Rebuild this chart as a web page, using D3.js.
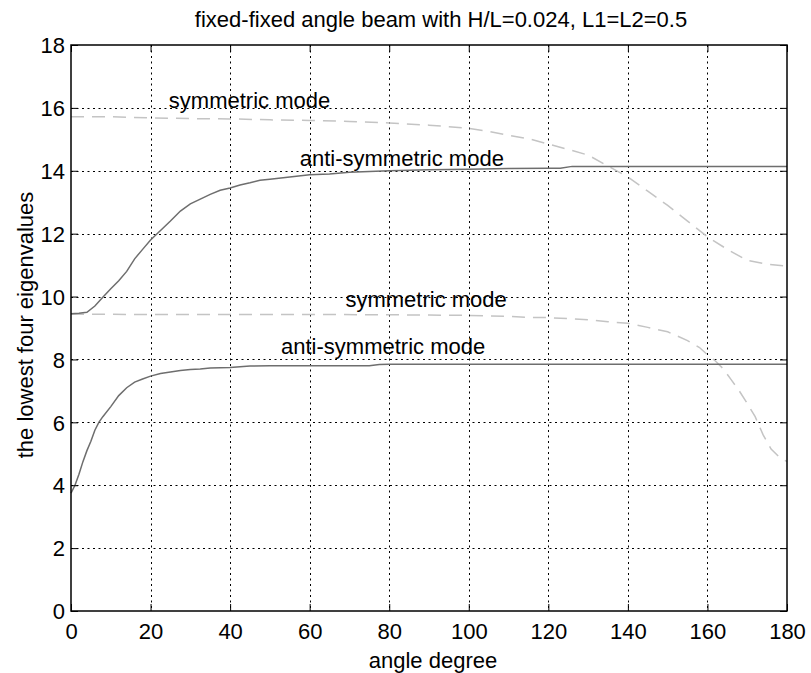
<!DOCTYPE html>
<html>
<head>
<meta charset="utf-8">
<script src="https://cdn.jsdelivr.net/npm/d3@7"></script>
<style>
  html, body { margin: 0; padding: 0; background: #fff; }
  svg text { font-family: "Liberation Sans", Arial, Helvetica, sans-serif; fill: #000; }
</style>
</head>
<body>
<svg id="chart" width="811" height="673"></svg>
<script>
// Eigenvalue curves of a fixed-fixed angle beam versus the angle (degrees)
const xTicks = [0, 20, 40, 60, 80, 100, 120, 140, 160, 180];
const yTicks = [0, 2, 4, 6, 8, 10, 12, 14, 16, 18];

// lowest anti-symmetric mode
const antiLowAngle = [0, 1, 2, 3, 4, 5, 6, 7, 8, 10, 12, 14, 16, 18, 20, 22.5, 25, 27.5, 30, 32.5, 35, 40, 42.5, 45, 50, 60, 70, 75, 77.5, 80, 100, 120, 140, 160, 180];
const antiLowValue = [3.75, 4.0, 4.35, 4.75, 5.1, 5.4, 5.75, 6.0, 6.18, 6.5, 6.85, 7.1, 7.28, 7.38, 7.47, 7.55, 7.6, 7.65, 7.68, 7.7, 7.73, 7.74, 7.77, 7.79, 7.8, 7.8, 7.8, 7.8, 7.84, 7.85, 7.85, 7.85, 7.85, 7.85, 7.85];

// lowest symmetric mode
const symLowAngle = [0, 20, 40, 60, 80, 90, 100, 105, 110, 115, 120, 125, 130, 135, 140, 145, 150, 155, 158, 160, 162, 164, 166, 168, 170, 172, 174, 176, 178, 180];
const symLowValue = [9.44, 9.43, 9.43, 9.43, 9.42, 9.41, 9.4, 9.38, 9.37, 9.34, 9.33, 9.3, 9.26, 9.2, 9.15, 9.02, 8.88, 8.6, 8.38, 8.15, 7.95, 7.7, 7.35, 7.0, 6.6, 6.18, 5.6, 5.15, 4.9, 4.75];

// second anti-symmetric mode
const antiHighAngle = [0, 2, 4, 6, 8, 10, 12, 14, 16, 18, 20, 22.5, 25, 27.5, 30, 32.5, 35, 37.5, 40, 42.5, 45, 47.5, 50, 55, 60, 65, 70, 75, 80, 90, 100, 110, 120, 123, 126, 130, 150, 180];
const antiHighValue = [9.45, 9.47, 9.5, 9.7, 9.98, 10.25, 10.5, 10.8, 11.2, 11.5, 11.8, 12.1, 12.4, 12.72, 12.95, 13.1, 13.25, 13.38, 13.45, 13.55, 13.62, 13.7, 13.73, 13.8, 13.87, 13.9, 13.95, 13.98, 14.0, 14.03, 14.05, 14.07, 14.08, 14.08, 14.14, 14.14, 14.14, 14.14];

// second symmetric mode
const symHighAngle = [0, 10, 20, 30, 40, 50, 60, 70, 80, 90, 100, 105, 110, 115, 120, 125, 130, 135, 140, 145, 150, 155, 160, 165, 170, 175, 180];
const symHighValue = [15.72, 15.72, 15.68, 15.66, 15.65, 15.62, 15.6, 15.57, 15.52, 15.45, 15.35, 15.25, 15.13, 15.02, 14.85, 14.68, 14.5, 14.15, 13.8, 13.35, 12.9, 12.4, 11.9, 11.5, 11.15, 11.03, 10.97];

// curve annotations: [text, angle, value]
const labelText = ["symmetric mode", "anti-symmetric mode", "symmetric mode", "anti-symmetric mode"];
const labelAngle = [24.6, 57.5, 69.0, 52.8];
const labelValue = [16.0, 14.15, 9.66, 8.17];

const titleText = "fixed-fixed angle beam with H/L=0.024, L1=L2=0.5";
const xLabelText = "angle degree";
const yLabelText = "the lowest four eigenvalues";

const svg = d3.select("#chart");
const plotLeft = 71, plotRight = 787, plotTop = 45, plotBottom = 611;
const fontSize = 22;

const x = d3.scaleLinear().domain([0, 180]).range([plotLeft, plotRight]);
const y = d3.scaleLinear().domain([0, 18]).range([plotBottom, plotTop]);

// dotted grid
const grid = svg.append("g").attr("stroke", "#000").attr("stroke-width", 1).attr("stroke-dasharray", "2,3.5");
grid.selectAll("line.vx").data(xTicks.slice(1, -1)).join("line")
  .attr("x1", d => Math.round(x(d)) + 0.5).attr("x2", d => Math.round(x(d)) + 0.5)
  .attr("y1", plotTop).attr("y2", plotBottom);
grid.selectAll("line.hy").data(yTicks.slice(1, -1)).join("line")
  .attr("y1", d => Math.round(y(d)) + 0.5).attr("y2", d => Math.round(y(d)) + 0.5)
  .attr("x1", plotLeft).attr("x2", plotRight);

// curves
const line = d3.line().x(d => x(d[0])).y(d => y(d[1]));
function curve(ax, vals, color, dash) {
  svg.append("path")
    .datum(d3.zip(ax, vals))
    .attr("fill", "none")
    .attr("stroke", color)
    .attr("stroke-width", 1.5)
    .attr("stroke-dasharray", dash)
    .attr("d", line);
}
curve(symHighAngle, symHighValue, "#c4c4c4", "13,8");
curve(symLowAngle, symLowValue, "#c4c4c4", "13,8");
curve(antiHighAngle, antiHighValue, "#6e6e6e", null);
curve(antiLowAngle, antiLowValue, "#6e6e6e", null);

// axes with inward ticks on all four sides
const tick = 7;
const xAxisB = d3.axisBottom(x).tickValues(xTicks).tickSizeInner(-tick).tickSizeOuter(0);
const xAxisT = d3.axisTop(x).tickValues(xTicks).tickSizeInner(-tick).tickSizeOuter(0).tickFormat("");
const yAxisL = d3.axisLeft(y).tickValues(yTicks).tickSizeInner(-tick).tickSizeOuter(0);
const yAxisR = d3.axisRight(y).tickValues(yTicks).tickSizeInner(-tick).tickSizeOuter(0).tickFormat("");

function styleAxis(g) {
  g.select(".domain").remove();
  g.selectAll(".tick line").attr("stroke", "#000").attr("stroke-width", 1);
  g.selectAll(".tick text").attr("font-size", fontSize).attr("fill", "#000");
}
svg.append("g").attr("transform", `translate(0,${plotBottom})`).call(xAxisB).call(styleAxis)
  .selectAll(".tick text").attr("dy", null).attr("y", 28);
svg.append("g").attr("transform", `translate(0,${plotTop})`).call(xAxisT).call(styleAxis);
svg.append("g").attr("transform", `translate(${plotLeft},0)`).call(yAxisL).call(styleAxis)
  .selectAll(".tick text").attr("x", -6).attr("dy", "0.35em");
svg.append("g").attr("transform", `translate(${plotRight},0)`).call(yAxisR).call(styleAxis);
svg.selectAll(".tick text").attr("font-family", "Liberation Sans, Arial, Helvetica, sans-serif");

// box
svg.append("rect").attr("x", plotLeft).attr("y", plotTop).attr("width", plotRight - plotLeft).attr("height", plotBottom - plotTop)
  .attr("fill", "none").attr("stroke", "#000").attr("stroke-width", 1.5);

// curve annotations
svg.append("g").selectAll("text").data(d3.range(labelText.length)).join("text")
  .attr("x", i => x(labelAngle[i]))
  .attr("y", i => y(labelValue[i]))
  .attr("font-size", fontSize)
  .text(i => labelText[i]);

// title and axis labels
svg.append("text").attr("x", 441).attr("y", 27).attr("text-anchor", "middle").attr("font-size", fontSize).text(titleText);
svg.append("text").attr("x", (plotLeft + plotRight) / 2 + 4).attr("y", 668).attr("text-anchor", "middle").attr("font-size", fontSize).text(xLabelText);
svg.append("text").attr("transform", `translate(33,${(plotTop + plotBottom) / 2 - 3}) rotate(-90)`).attr("text-anchor", "middle").attr("font-size", fontSize).text(yLabelText);
</script>
</body>
</html>
